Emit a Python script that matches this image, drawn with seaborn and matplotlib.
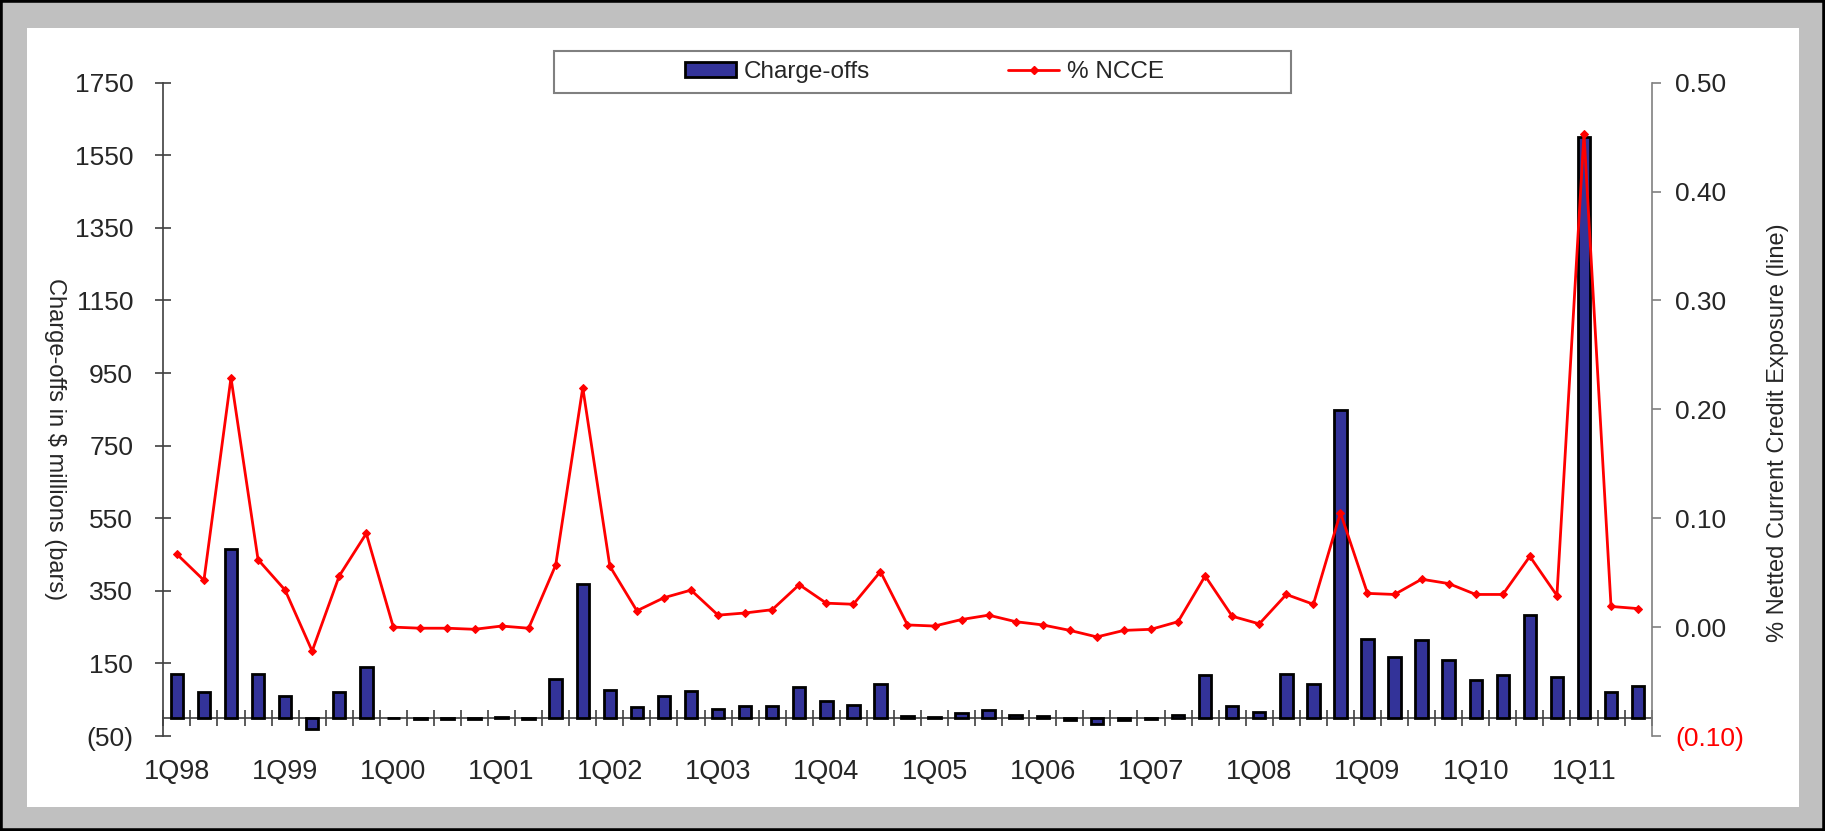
import numpy as np
import pandas as pd
import matplotlib
matplotlib.use("Agg")
import matplotlib.pyplot as plt
from matplotlib.patches import Rectangle, Patch
from matplotlib.lines import Line2D
import seaborn as sns

# quarters 1Q98 .. 3Q11
quarters = [f"{q}Q{y % 100:02d}" for y in range(1998, 2012) for q in range(1, 5)][:55]

# charge-offs, $ millions (bars)
charge_offs = [120, 72, 466, 120, 60, -32, 72, 141,
               0, -3, -3, -4, 2, -3, 107, 370,
               76, 29, 60, 74, 25, 32, 34, 85,
               47, 35, 92, 5, 2, 13, 21, 8,
               4, -7, -16, -5, -4, 9, 119, 32,
               16, 121, 92, 847, 218, 167, 214, 159,
               104, 118, 283, 112, 1600, 70, 89]

# % of netted current credit exposure (line)
ncce = [0.067, 0.043, 0.229, 0.062, 0.034, -0.022, 0.047, 0.086,
        0.000, -0.001, -0.001, -0.002, 0.001, -0.001, 0.057, 0.220,
        0.056, 0.015, 0.027, 0.034, 0.011, 0.013, 0.016, 0.039,
        0.022, 0.021, 0.051, 0.002, 0.001, 0.007, 0.011, 0.005,
        0.002, -0.003, -0.009, -0.003, -0.002, 0.005, 0.047, 0.010,
        0.003, 0.030, 0.021, 0.105, 0.031, 0.030, 0.044, 0.040,
        0.030, 0.030, 0.065, 0.029, 0.453, 0.019, 0.017]

left_ticks = list(range(-50, 1751, 200))
right_ticks = [-0.1, 0.0, 0.1, 0.2, 0.3, 0.4, 0.5]

bar_color = '#333399'
axis_gray = '#404040'

sns.set_style('white')
plt.rcParams['font.family'] = ['Liberation Sans', 'DejaVu Sans']

df = pd.DataFrame({'quarter': quarters, 'charge_offs': charge_offs,
                   'ncce': ncce, 'pos': range(len(quarters))})

fig = plt.figure(figsize=(18.25, 8.31), dpi=100, facecolor='#C0C0C0')
# white panel inside grey border
fig.patches.append(Rectangle((0.0147, 0.0285), 0.9711, 0.9374, transform=fig.transFigure,
                             facecolor='white', edgecolor='none', zorder=-2))
fig.patches.append(Rectangle((0, 0), 1, 1, transform=fig.transFigure, fill=False,
                             edgecolor='black', lw=4, zorder=-1))

ax = fig.add_axes([0.0895, 0.1143, 0.8155, 0.7862])
ax.set_facecolor('none')

#%% bars
sns.barplot(data=df, x='quarter', y='charge_offs', color=bar_color, saturation=1,
            edgecolor='black', linewidth=2, width=0.46, ax=ax)

ax.set_xlim(-0.5, len(quarters) - 0.5)
ax.set_ylim(-50, 1750)
ax.set_yticks(left_ticks, [f"({-v})" if v < 0 else str(v) for v in left_ticks])
ax.set_xticks(range(0, len(quarters), 4), quarters[::4])
ax.tick_params(axis='x', length=0, pad=16.5, labelsize=19.5)
ax.tick_params(axis='y', direction='inout', length=11.5, width=1.2, color=axis_gray,
               pad=16, labelsize=19)
for s in ['top', 'right', 'bottom']:
    ax.spines[s].set_visible(False)
ax.spines['left'].set_color(axis_gray)
ax.spines['left'].set_linewidth(1.2)
ax.set_xlabel('')
ax.set_ylabel('Charge-offs in $ millions (bars)', rotation=-90, fontsize=17, va='center')
ax.yaxis.set_label_coords(-0.0729, 0.455)

# category axis crossing at zero
sec = ax.secondary_xaxis(0, transform=ax.transData)
sec.set_xticks(np.arange(-0.5, len(quarters), 1))
sec.tick_params(direction='inout', length=11, width=1.2, color=axis_gray,
                labeltop=False, labelbottom=False)
for s in sec.spines.values():
    s.set_color(axis_gray)
    s.set_linewidth(1.2)

#%% line
ax2 = ax.twinx()
sns.lineplot(data=df, x='pos', y='ncce', ax=ax2, color='red', lw=2, marker='D',
             markersize=4.5, markeredgecolor='red')
ax2.set_xlim(-0.5, len(quarters) - 0.5)
ax2.set_ylim(-0.1, 0.5)
ax2.set_yticks(right_ticks, [f"({abs(v):.2f})" if v < 0 else f"{v:.2f}" for v in right_ticks])
ax2.tick_params(axis='y', direction='out', length=6.5, width=1.2, color='#808080',
                pad=10.4, labelsize=19)
ax2.get_yticklabels()[0].set_color('red')
for s in ['top', 'left', 'bottom']:
    ax2.spines[s].set_visible(False)
ax2.spines['right'].set_color('#808080')
ax2.spines['right'].set_linewidth(1.2)
ax2.set_xlabel('')
ax2.set_ylabel('% Netted Current Credit Exposure (line)', rotation=90, fontsize=17, va='center')
ax2.yaxis.set_label_coords(1.0851, 0.464)

#%% legend
fig.patches.append(Rectangle((0.3036, 0.8881), 0.4038, 0.0505, transform=fig.transFigure,
                             fill=False, edgecolor='#808080', lw=1.5))
handles = [Patch(facecolor=bar_color, edgecolor='black', lw=2),
           Line2D([], [], color='red', lw=2, marker='D', markersize=4.5)]
fig.legend(handles, ['Charge-offs', '% NCCE'], loc='center', bbox_to_anchor=(0.5065, 0.9134),
           ncol=2, frameon=False, fontsize=17.5, columnspacing=5.7, handlelength=2.1,
           handleheight=0.6, handletextpad=0.3)

fig.savefig('out.png', dpi=100, facecolor=fig.get_facecolor())
